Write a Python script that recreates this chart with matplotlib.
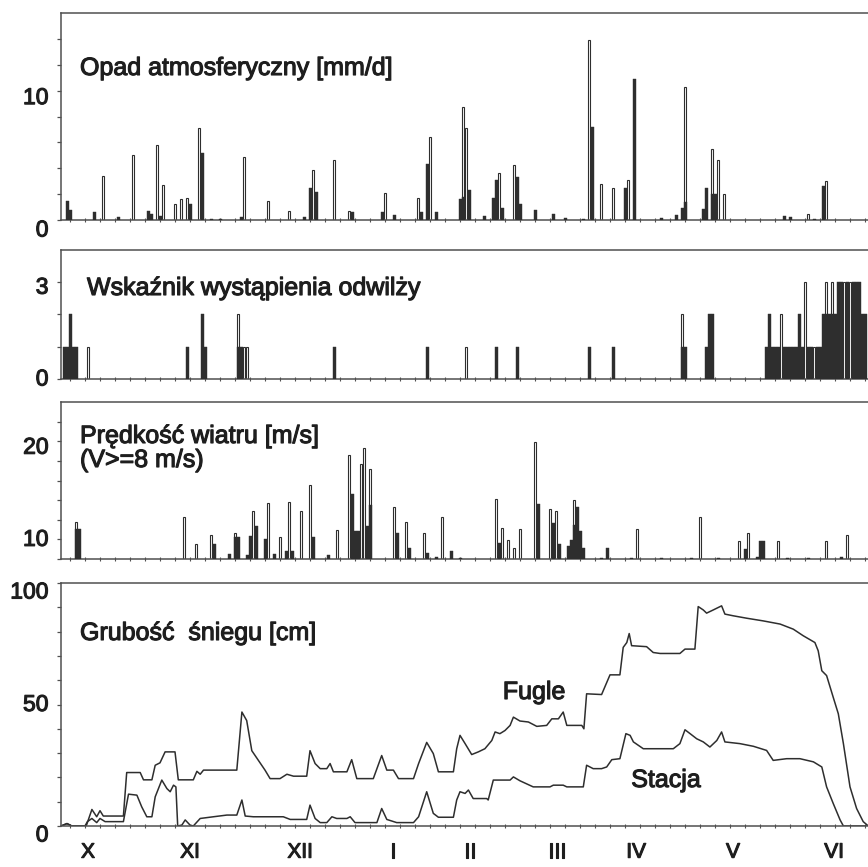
import matplotlib.pyplot as plt
import matplotlib.patheffects as pe
import numpy as np

plt.rcParams['font.family'] = ['Liberation Sans', 'DejaVu Sans']

# oś X: dni od 1 października
# Opad atmosferyczny [mm/d]: (dzień, wartość)
opad_kontur = [(14, 3.4), (24, 5.0), (32, 5.8), (34, 2.7), (38, 1.2), (40, 1.6), (42, 1.7),
               (46, 7.1), (61, 4.9), (69, 1.5), (76, 0.7), (84, 3.9), (91, 4.6), (96, 0.7),
               (108, 2.1), (119, 1.7), (123, 6.4), (134, 8.7), (135, 7.1), (146, 3.6),
               (151, 4.25), (176, 13.9), (180, 2.8), (184, 2.5), (189, 3.1), (208, 10.3),
               (217, 5.5), (219, 4.6), (221, 2.0), (249, 0.5), (255, 3.0)]
opad_ciemne = [(2, 1.5), (3, 0.8), (11, 0.6), (19, 0.2), (29, 0.7), (30, 0.5), (33, 0.3),
               (43, 1.2), (47, 5.2), (50, 0.1), (53, 0.1), (60, 0.2), (81, 0.2), (83, 2.5),
               (85, 2.2), (97, 0.6), (107, 0.6), (111, 0.4), (120, 0.6), (122, 4.3),
               (125, 0.6), (133, 1.6), (134, 1.75), (136, 2.3), (141, 0.3), (144, 1.7),
               (145, 3.1), (147, 0.9), (152, 3.3), (153, 1.2), (158, 0.75), (164, 0.45),
               (168, 0.15), (174, 0.1), (177, 7.2), (188, 2.5), (191, 10.9), (200, 0.15),
               (205, 0.4), (207, 0.95), (208, 1.4), (214, 0.85), (215, 2.5), (217, 2.0),
               (218, 2.0), (241, 0.3), (243, 0.2), (251, 0.1), (254, 2.6)]

# Wskaźnik wystąpienia odwilży
odwilz_kontur = [(9, 1), (59, 2), (61, 1), (62, 1), (135, 1), (207, 2), (240, 2), (248, 3),
                 (251, 1), (255, 3), (257, 3), (261, 3), (263, 3)]
odwilz_ciemne = [(1, 1), (2, 1), (3, 2), (4, 1), (5, 1), (42, 1), (47, 2), (48, 1), (59, 1),
                 (60, 1), (91, 1), (122, 1), (145, 1), (152, 1), (176, 1), (184, 1), (207, 1),
                 (208, 1), (215, 1), (216, 2), (217, 2), (235, 1), (236, 2), (237, 1),
                 (238, 1), (239, 1), (241, 1), (242, 1), (243, 1), (244, 1), (245, 1),
                 (246, 2), (247, 1), (249, 1), (250, 1), (252, 1), (253, 1), (254, 2),
                 (255, 2), (256, 2), (257, 2), (258, 2), (259, 3), (260, 3), (262, 3),
                 (264, 3), (265, 3), (266, 3), (267, 2), (268, 2)]

# Prędkość wiatru [m/s] (V>=8 m/s)
wiatr_kontur = [(5, 11.8), (41, 12.3), (45, 9.5), (50, 10.4), (58, 10.7), (64, 12.9),
                (69, 13.7), (73, 10.2), (76, 13.8), (80, 12.9), (83, 15.5), (92, 11.0),
                (96, 18.6), (100, 17.7), (101, 19.3), (103, 17.2), (111, 13.3), (115, 11.8),
                (121, 10.7), (127, 12.3), (145, 14.1), (147, 11.2), (149, 9.9), (151, 9.1),
                (153, 11.1), (158, 19.9), (163, 13.1), (165, 12.9), (171, 14.0), (192, 11.1),
                (213, 12.3), (226, 9.8), (229, 10.7), (239, 9.8), (255, 9.8), (262, 10.4)]
wiatr_ciemne = [(5, 11.1), (6, 11.1), (51, 9.5), (56, 8.5), (58, 10.2), (59, 10.2), (62, 8.4),
                (63, 10.3), (65, 11.4), (68, 10.0), (71, 8.5), (75, 8.8), (77, 8.8), (84, 10.2),
                (89, 8.4), (97, 14.6), (98, 10.9), (99, 10.9), (102, 11.4), (103, 13.5),
                (112, 10.6), (116, 9.1), (122, 8.6), (125, 8.2), (130, 8.8), (133, 8.1),
                (146, 9.6), (159, 13.6), (164, 11.7), (166, 9.5), (169, 9.3), (170, 9.9),
                (171, 11.5), (172, 13.3), (173, 10.9), (174, 9.1), (180, 8.1), (182, 9.1),
                (190, 8.1), (200, 8.1), (210, 8.1), (219, 8.1), (228, 9.0), (232, 8.2),
                (233, 9.8), (234, 9.8), (242, 8.1), (249, 8.1), (260, 8.2)]

# Grubość śniegu [cm]
fugle = [(0, 0), (2.0, 1.0), (3.6, 0), (8.4, 0), (10.3, 6.8), (11.9, 3.8), (13.0, 6.3),
         (14.1, 4.1), (20.8, 4.1), (21.9, 22), (26.4, 22), (27.5, 19), (30.3, 19), (31.4, 25),
         (33.0, 26), (34.7, 30.5), (38.0, 30.5), (39.1, 19), (44.1, 19), (45.3, 22.5),
         (46.4, 21.3), (47.5, 23), (58.6, 23), (60.3, 46.9), (61.9, 43.4), (63.6, 31),
         (65.8, 27), (68.0, 23), (69.7, 19.5), (73.0, 19.5), (75.3, 21.3), (77.5, 20.5),
         (81.9, 20.5), (83.0, 31), (84.7, 25.7), (86.4, 23.6), (88.6, 23.6), (89.7, 25.7),
         (90.8, 22.3), (95.3, 22.3), (96.9, 27.3), (98.6, 19.5), (104.1, 19.5), (106.9, 29),
         (108.6, 23), (110.8, 23), (112.5, 19.5), (117.5, 19.5), (119.2, 25.7), (121.9, 34.4),
         (124.1, 29.8), (125.8, 22.3), (130.8, 22.3), (131.9, 31.8), (133.0, 37.3),
         (134.7, 33.9), (136.9, 29.4), (139.1, 30.5), (141.3, 31.8), (143.6, 35.2),
         (144.7, 38.7), (146.3, 38), (148.0, 39.3), (149.7, 41.4), (150.8, 44.8),
         (153.0, 43.2), (155.8, 42.8), (158.6, 41), (161.9, 41.4), (163.6, 44.1),
         (165.8, 44.1), (167.4, 46.9), (168.6, 41.4), (173.6, 41.4), (174.3, 40),
         (175.2, 54.4), (180.2, 54.1), (183.0, 62.2), (186.3, 62.2), (187.4, 73.5),
         (188.6, 75.5), (189.4, 79.2), (190.2, 74.2), (195.2, 73.8), (197.4, 71.4),
         (199.7, 71), (206.3, 71), (208.0, 72.8), (211.3, 72.8), (212.4, 90.3),
         (214.1, 88.9), (215.2, 87.6), (217.4, 88.9), (220.2, 90.6), (221.3, 87.2),
         (224.1, 86.5), (228.6, 85.5), (234.1, 84.4), (239.7, 83.1), (244.1, 81),
         (247.4, 78.3), (251.3, 75.5), (252.4, 72.1), (253.6, 63.9), (255.2, 61.9),
         (257.4, 53), (259.1, 46.2), (260.8, 33.9), (263.0, 16.1), (265.2, 7.2),
         (267.4, 1.8), (269.1, 0)]
stacja = [(0, 0), (2.0, 1.0), (3.6, 0), (8.0, 0), (8.8, 1.8), (10.3, 3.1), (11.9, 1.4),
          (13.0, 3.1), (14.7, 1.8), (20.8, 1.8), (22.5, 13.1), (25.3, 12.7), (26.9, 7.9),
          (28.6, 3.8), (30.3, 3.8), (31.4, 12), (33.6, 18.9), (35.3, 15.4), (36.4, 14.1),
          (37.5, 16.8), (38.3, 16.1), (38.9, 0), (40.3, 0.4), (41.4, 2.5), (43.0, 0.4),
          (44.1, 0), (46.4, 3.1), (50.8, 3.8), (55.3, 4.5), (58.6, 4.5), (60.3, 10.7),
          (61.4, 4.1), (64.1, 3.8), (74.1, 3.8), (76.4, 2.7), (81.9, 2.7), (83.0, 8.6),
          (84.7, 3.1), (86.4, 1.4), (88.6, 1.4), (90.3, 3.8), (91.9, 3.1), (95.3, 3.1),
          (96.4, 3.8), (98.0, 1.4), (105.3, 1.4), (106.9, 7.2), (108.6, 2.7), (111.9, 1.4),
          (117.5, 1.4), (119.2, 3.8), (121.9, 14.1), (124.1, 5.2), (125.8, 3.6),
          (130.8, 3.6), (131.9, 10.7), (133.0, 14.1), (134.7, 13.4), (135.8, 14.8),
          (137.4, 11.3), (141.9, 11.3), (142.4, 10.7), (144.1, 18.9), (149.7, 18.9),
          (150.8, 20.2), (153.0, 18.6), (157.4, 16.1), (163.0, 16.1), (164.1, 16.8),
          (167.4, 16.8), (168.6, 16.1), (174.1, 16.1), (175.2, 25), (177.4, 23.6),
          (180.2, 23.6), (181.9, 24.3), (183.6, 27.3), (186.3, 27.7), (188.3, 38),
          (189.7, 37.3), (190.8, 34.6), (194.1, 31.8), (204.1, 31.8), (206.3, 33.9),
          (208.0, 39.6), (209.7, 38), (211.9, 35.9), (214.1, 34.6), (216.3, 32.5),
          (218.6, 35.2), (220.2, 38.7), (221.3, 34.6), (226.3, 33.9), (230.8, 32.8),
          (235.2, 31.1), (237.4, 27), (241.9, 27.7), (246.3, 27.7), (250.8, 26.4),
          (253.6, 24.3), (255.2, 16.1), (257.4, 9.3), (259.7, 2.5), (260.8, 0), (269, 0)]

miesiace = ['X', 'XI', 'XII', 'I', 'II', 'III', 'IV', 'V', 'VI']
miesiace_poz = [9, 43, 79.7, 110.7, 136.3, 165.3, 191.7, 224, 257.7]

kolor = '#2e2e2e'
kolor_ram = '#505050'
kolor_tekst = '#1e1e1e'
# pogrubienie liter jak na skanie
gruby = [pe.withStroke(linewidth=0.8, foreground=kolor_tekst)]

fig = plt.figure(figsize=(8.68, 8.67), dpi=100)
L = 61 / 868


def panel(top, bottom):
    return fig.add_axes([L, 1 - bottom / 867, 1 - L, (bottom - top) / 867])


def styl(ax, ylim, yticks, etykiety):
    ax.set_xlim(0, 269)
    ax.set_ylim(*ylim)
    ax.spines['right'].set_visible(False)
    for s in ['top', 'left', 'bottom']:
        ax.spines[s].set_color(kolor_ram)
        ax.spines[s].set_linewidth(1.1)
    ax.set_yticks(yticks)
    ax.set_yticklabels([])
    ax.tick_params(axis='y', direction='out', length=3, width=0.9, color=kolor_ram)
    ax.set_xticks([])
    ax.set_xticks(np.arange(3, 269, 5), minor=True)
    ax.tick_params(axis='x', which='minor', direction='inout', length=3, width=0.8,
                   color=kolor_ram)
    for war, dy in etykiety:
        ax.annotate(str(war), xy=(0, war), xycoords=('axes fraction', 'data'),
                    xytext=(-9, -dy * 0.72), textcoords='offset points',
                    ha='right', va='center', fontsize=16.5, color=kolor_tekst,
                    path_effects=gruby)


def slupki(ax, kontur, ciemne, dol=0):
    d, v = zip(*kontur)
    ax.bar(d, np.array(v) - dol, bottom=dol, width=0.75, color='white',
           edgecolor=kolor, linewidth=0.8, zorder=2)
    d, v = zip(*ciemne)
    ax.bar(d, np.array(v) - dol, bottom=dol, width=1.0, color=kolor,
           edgecolor=kolor, linewidth=0.3, zorder=3)


# panel 1 - opad
ax1 = panel(13, 220)
slupki(ax1, opad_kontur, opad_ciemne)
styl(ax1, (0, 16), np.arange(0, 16, 2), [(0, 10), (10, 7)])

# panel 2 - odwilż
ax2 = panel(250, 379)
slupki(ax2, odwilz_kontur, odwilz_ciemne)
styl(ax2, (0, 4), [0, 1, 2, 3], [(0, 0), (3, 5)])

# panel 3 - wiatr
ax3 = panel(402, 559)
slupki(ax3, wiatr_kontur, wiatr_ciemne, dol=8)
styl(ax3, (8, 24), np.arange(8, 24, 2), [(10, 0), (20, 6)])

# panel 4 - śnieg
ax4 = panel(583, 826)
for seria in [fugle, stacja]:
    d, v = zip(*seria)
    ax4.plot(d, v, color=kolor, linewidth=1.1)
styl(ax4, (0, 100), np.arange(0, 101, 10), [(0, 9), (50, 0), (100, 9)])
ax4.set_xticks(miesiace_poz)
ax4.set_xticklabels(miesiace, fontsize=15, color=kolor_tekst)
for t in ax4.get_xticklabels():
    t.set_path_effects(gruby)
ax4.tick_params(axis='x', which='major', length=0, pad=12)

tekst = dict(fontsize=18, color=kolor_tekst, va='center', path_effects=gruby)
fig.text(80 / 868, 1 - 68 / 867, 'Opad atmosferyczny [mm/d]', **tekst)
fig.text(87 / 868, 1 - 288 / 867, 'Wskaźnik wystąpienia odwilży', **tekst)
fig.text(80 / 868, 1 - 436 / 867, 'Prędkość wiatru [m/s]', **tekst)
fig.text(80 / 868, 1 - 460 / 867, '(V>=8 m/s)', **tekst)
fig.text(80 / 868, 1 - 633 / 867, 'Grubość  śniegu [cm]', **tekst)
fig.text(534 / 868, 1 - 692 / 867, 'Fugle', ha='center', **tekst)
fig.text(666 / 868, 1 - 780 / 867, 'Stacja', ha='center', **tekst)

fig.savefig('out.png', dpi=100)
